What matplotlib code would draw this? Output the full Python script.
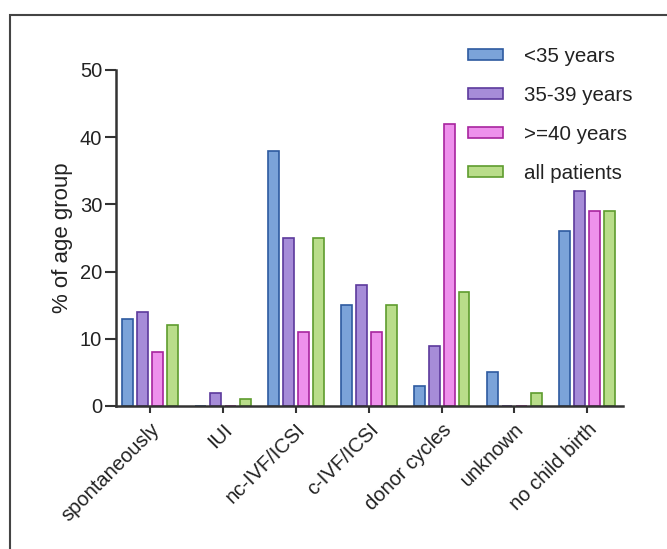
import numpy as np
import matplotlib
matplotlib.use('Agg')
import matplotlib.pyplot as plt
from matplotlib.patches import Rectangle

plt.rcParams['font.family'] = ['Liberation Sans', 'DejaVu Sans']

# %% Data
categories = ['spontaneously', 'IUI', 'nc-IVF/ICSI', 'c-IVF/ICSI',
              'donor cycles', 'unknown', 'no child birth']
groups = ['<35 years', '35-39 years', '>=40 years', 'all patients']
under_35 = [13, 0, 38, 15, 3, 5, 26]
from_35_39 = [14, 2, 25, 18, 9, 0, 32]
over_40 = [8, 0, 11, 11, 42, 0, 29]
all_patients = [12, 1, 25, 15, 17, 2, 29]
yticks = [0, 10, 20, 30, 40, 50]

fills = ['#7ba3d9', '#a68cd8', '#ee91ec', '#b9dd8a']
edges = ['#2d5aa0', '#5c3a9c', '#a8249e', '#5e9c2e']

# %% Plot
fig = plt.figure(figsize=(6.67, 5.49), dpi=100)
ax = fig.add_axes([0.174, 0.2605, 0.760, 0.612])

x = np.arange(len(categories))
step = 0.205
width = 0.15
series = [under_35, from_35_39, over_40, all_patients]
for i, vals in enumerate(series):
    ax.bar(x + (i - 1.5) * step, vals, width, color=fills[i],
           edgecolor=edges[i], linewidth=1.2, label=groups[i])

ax.set_xlim(-0.47, 6.49)
ax.set_ylim(0, 50)
ax.set_yticks(yticks)
ax.set_xticks(x)
ax.set_xticklabels(categories, rotation=45, ha='right', rotation_mode='anchor',
                   fontsize=14.5)
ax.tick_params(axis='y', labelsize=14.5, length=8, width=1.5, color='#333333',
               labelcolor='#222222', pad=2)
ax.tick_params(axis='x', length=5, width=1.5, color='#333333',
               labelcolor='#222222', pad=5)
ax.set_ylabel('% of age group', fontsize=16, color='#222222', labelpad=5)

for side in ['top', 'right']:
    ax.spines[side].set_visible(False)
for side in ['left', 'bottom']:
    ax.spines[side].set_linewidth(1.8)
    ax.spines[side].set_color('#333333')

leg = ax.legend(loc='upper left', bbox_to_anchor=(468 / 667, 1 - 47 / 549),
                bbox_transform=fig.transFigure, borderpad=0, borderaxespad=0,
                frameon=False, fontsize=14.8, handlelength=1.72,
                handleheight=0.4, labelspacing=0.97, handletextpad=1.0)
for t in leg.get_texts():
    t.set_color('#222222')

# frame around the figure (only left and top are visible in the crop)
fig.patches.append(Rectangle((10 / 667, -0.05), 1.2, 0.05 + 1 - 15 / 549,
                             transform=fig.transFigure, fill=False,
                             edgecolor='#444444', linewidth=1.5))

fig.savefig('out.png', dpi=100)
